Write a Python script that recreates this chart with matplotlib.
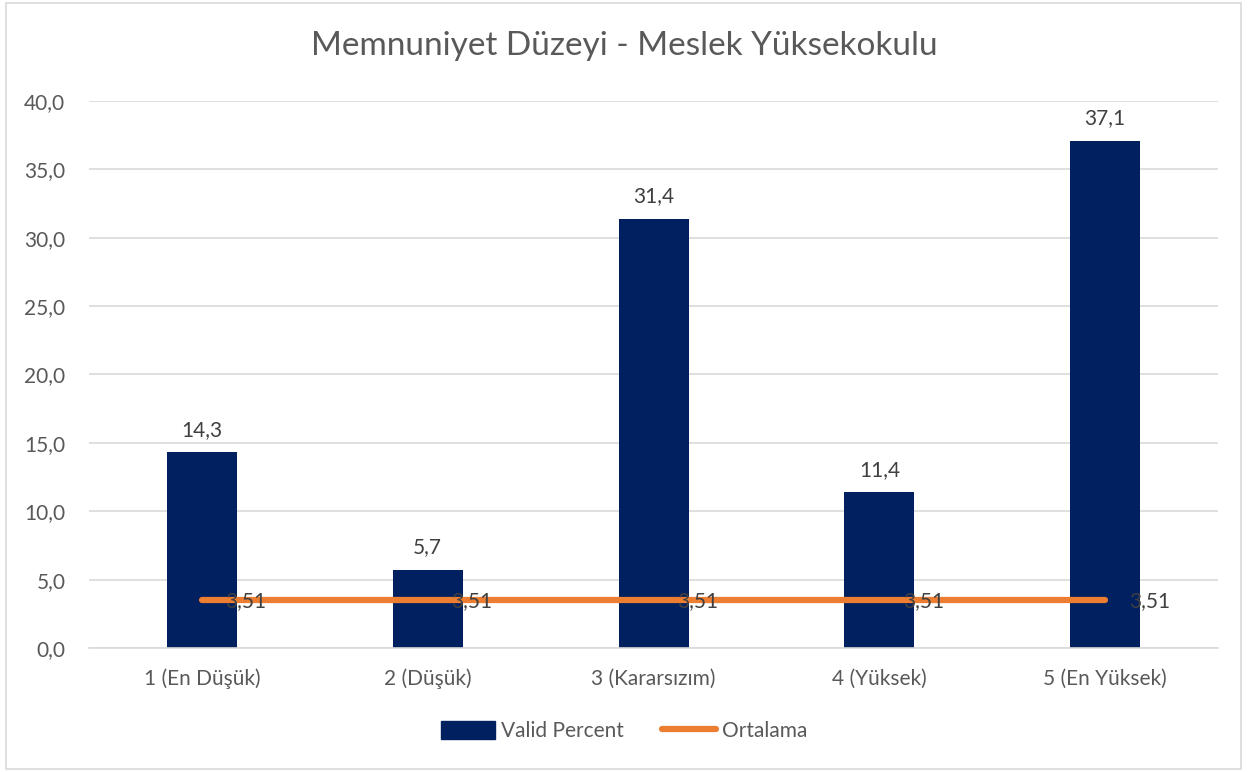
import matplotlib.pyplot as plt
from matplotlib.patches import Rectangle
from matplotlib.lines import Line2D

# =========================
# data
# =========================
categories = ["1 (En Düşük)", "2 (Düşük)", "3 (Kararsızım)", "4 (Yüksek)", "5 (En Yüksek)"]
valid_percent = [14.3, 5.7, 31.4, 11.4, 37.1]
ortalama = [3.51, 3.51, 3.51, 3.51, 3.51]
yticks = [0, 5, 10, 15, 20, 25, 30, 35, 40]

BAR_COLOR = "#002060"
LINE_COLOR = "#ED7D31"
TEXT_COLOR = "#595959"
GRID_COLOR = "#D9D9D9"
FS = 15

plt.rcParams["font.family"] = ["Lato", "DejaVu Sans"]


def fmt(v, nd=1):
    return f"{v:.{nd}f}".replace(".", ",")


fig = plt.figure(figsize=(12.48, 7.72), dpi=100)
ax = fig.add_axes([0.0713, 0.1606, 0.9047, 0.7086])

# outer border
fig.patches.append(Rectangle((0.005, 0.004), 0.989, 0.992, transform=fig.transFigure,
                             fill=False, edgecolor=GRID_COLOR, linewidth=1.2))

x = list(range(len(categories)))
ax.bar(x, valid_percent, width=0.31, color=BAR_COLOR, zorder=2)
ax.plot(x, ortalama, color=LINE_COLOR, linewidth=4.5, solid_capstyle="round", zorder=3)

for xi, v in zip(x, valid_percent):
    ax.annotate(fmt(v), (xi, v), xytext=(0, 9), textcoords="offset points",
                ha="center", va="bottom", fontsize=FS, color="#404040")
for xi, v in zip(x, ortalama):
    ax.annotate(fmt(v, 2), (xi, v), xytext=(17, -1), textcoords="offset points",
                ha="left", va="center", fontsize=FS, color="#404040", zorder=4)

ax.set_xlim(-0.5, len(categories) - 0.5)
ax.set_ylim(0, 40)
ax.set_yticks(yticks)
ax.set_yticklabels([fmt(t) for t in yticks])
ax.set_xticks(x)
ax.set_xticklabels(categories)
ax.tick_params(axis="both", length=0, labelsize=FS, colors=TEXT_COLOR)
ax.tick_params(axis="y", pad=17)
ax.tick_params(axis="x", pad=15)
ax.grid(axis="y", color=GRID_COLOR, linewidth=1.2, zorder=0)
ax.set_axisbelow(True)
for s in ["top", "right", "left"]:
    ax.spines[s].set_visible(False)
ax.spines["bottom"].set_color(GRID_COLOR)
ax.spines["bottom"].set_linewidth(1.2)

fig.text(0.5, 0.94, "Memnuniyet Düzeyi - Meslek Yüksekokulu", ha="center", va="center",
         fontsize=24, color=TEXT_COLOR)

handles = [Rectangle((0, 0), 1, 1, color=BAR_COLOR),
           Line2D([0], [0], color=LINE_COLOR, linewidth=4.5, solid_capstyle="round")]
fig.legend(handles, ["Valid Percent", "Ortalama"], loc="center", bbox_to_anchor=(0.5, 0.053),
           ncol=2, frameon=False, fontsize=FS, labelcolor=TEXT_COLOR,
           handlelength=2.6, handleheight=0.9, handletextpad=0.3, columnspacing=1.8)

fig.savefig("out.png", dpi=100)
